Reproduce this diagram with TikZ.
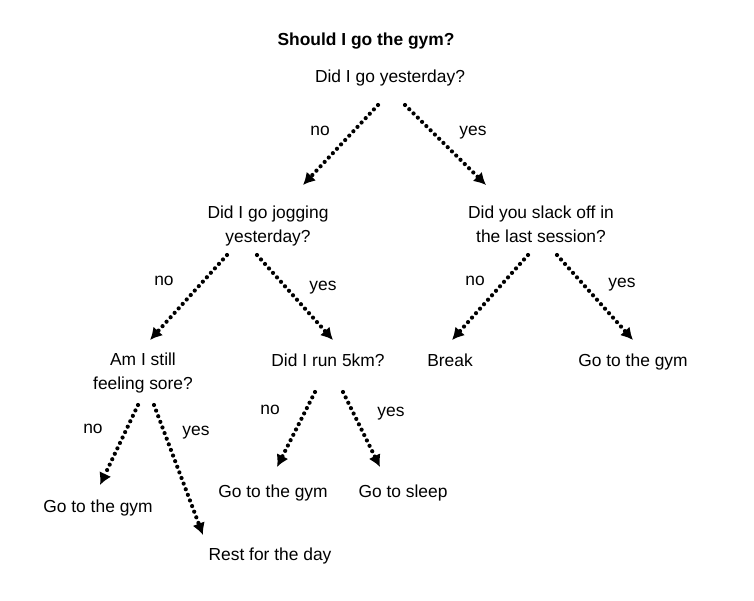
\documentclass[tikz,border=0pt]{standalone}
\usepackage{fontspec}
\setmainfont{Liberation Sans}
\usetikzlibrary{arrows.meta,calc}

\begin{document}
\begin{tikzpicture}
[x=0.5pt, y=-0.5pt,
 font=\fontsize{8.7}{12}\selectfont,
 every node/.style={align=center, inner sep=0pt, text height=0.72em, text depth=0.22em},
 arr/.style={line width=2.1pt, line cap=round, dash pattern=on 0pt off 3pt,
             -{Latex[length=6pt,width=6.5pt]}},
 lbl/.style={}]
  \useasboundingbox (0,0) rectangle (754,600);
  \node[font=\fontsize{8.7}{12}\selectfont\bfseries] (title) at (366,40) {Should I go the gym?};
  % questions
  \node (yest) at (390,77) {Did I go yesterday?};
  \node (jog) at (268,237) {Did I go jogging\\yesterday?};
  \node (slack) at (541,237) {Did you slack off in\\the last session?};
  \node (sore) at (143,384) {Am I still\\feeling sore?};
  \node (run) at (328,361) {Did I run 5km?};
  % answers
  \node (brk) at (450,361) {Break};
  \node (gymA) at (633,361) {Go to the gym};
  \node (gymB) at (98,507) {Go to the gym};
  \node (rest) at (270,555) {Rest for the day};
  \node (gymC) at (273,492) {Go to the gym};
  \node (sleep) at (403,492) {Go to sleep};
  % arrows
  \draw[arr] ($(yest)+(-12,28)$) -- ($(jog)+(35,-52)$);
  \draw[arr] ($(yest)+(15,28)$) -- ($(slack)+(-55,-52)$);
  \draw[arr] ($(jog)+(-41,18)$) -- ($(sore)+(7,-44)$);
  \draw[arr] ($(jog)+(-11,18)$) -- ($(run)+(5,-21)$);
  \draw[arr] ($(slack)+(-13,18)$) -- ($(brk)+(2,-21)$);
  \draw[arr] ($(slack)+(16,18)$) -- ($(gymA)+(0,-21)$);
  \draw[arr] ($(sore)+(-5,21)$) -- ($(gymB)+(2,-22)$);
  \draw[arr] ($(sore)+(11,21)$) -- ($(rest)+(-67,-20)$);
  \draw[arr] ($(run)+(-13,31)$) -- ($(gymC)+(4,-25)$);
  \draw[arr] ($(run)+(15,31)$) -- ($(sleep)+(-23,-25)$);
  % labels
  \node[lbl] (n1) at (320,130) {no};
  \node[lbl] (y1) at (473,130) {yes};
  \node[lbl] (n2) at (164,280) {no};
  \node[lbl] (y2) at (323,285) {yes};
  \node[lbl] (n3) at (475,280) {no};
  \node[lbl] (y3) at (622,282) {yes};
  \node[lbl] (n4) at (93,428) {no};
  \node[lbl] (y4) at (196,430) {yes};
  \node[lbl] (n5) at (270,409) {no};
  \node[lbl] (y5) at (391,411) {yes};
\end{tikzpicture}
\end{document}
